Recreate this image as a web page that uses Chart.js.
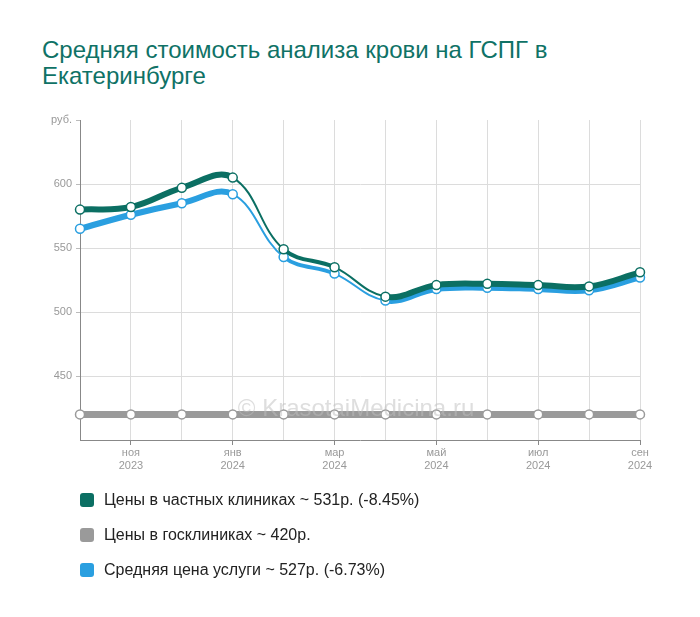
<!DOCTYPE html>
<html><head><meta charset="utf-8">
<script src="https://cdn.jsdelivr.net/npm/chart.js@4.4.1/dist/chart.umd.min.js"></script>
<style>
body{margin:0;background:#fff;font-family:Arial,"Liberation Sans",sans-serif;}
#wrap{position:relative;width:700px;height:617px;overflow:hidden;}
#title{position:absolute;left:42px;top:37px;font-size:24px;color:#0f7266;line-height:26px;width:640px;}
canvas{position:absolute;left:0;top:0;}
#legend{position:absolute;left:80px;top:482px;}
.li{display:flex;align-items:center;height:35px;font-size:16px;color:#222;}
.sw{width:14px;height:14px;border-radius:3px;margin-right:10px;}
</style></head>
<body>
<div id="wrap">
<div id="title">Средняя стоимость анализа крови на ГСПГ в<br>Екатеринбурге</div>
<canvas id="c" width="700" height="617"></canvas>
<div id="legend"></div>
</div>
<script>
const months = ['окт 2023','ноя 2023','дек 2023','янв 2024','фев 2024','мар 2024','апр 2024','май 2024','июн 2024','июл 2024','авг 2024','сен 2024'];
const tickLabels = ['', ['ноя','2023'], '', ['янв','2024'], '', ['мар','2024'], '', ['май','2024'], '', ['июл','2024'], '', ['сен','2024']];
const privatePrices = [580, 582, 597, 605, 549, 535, 512, 521, 522, 521, 520, 531];
const publicPrices  = [420, 420, 420, 420, 420, 420, 420, 420, 420, 420, 420, 420];
const averagePrices = [565, 576, 585, 592, 543, 530, 509, 518, 519, 518, 517, 527];
const seriesNames = ['Цены в частных клиниках ~ 531р. (-8.45%)', 'Цены в госклиниках ~ 420р.', 'Средняя цена услуги ~ 527р. (-6.73%)'];
const yTicks = {min: 400, max: 650, step: 50, unit: 'руб.'};

// styles
const colors = ['#0b6f63', '#9a9a9a', '#2a9fe0'];
const segWidths = [6, 6, 6, 2, 4, 2, 6, 6, 6, 6, 6];

const legend = document.getElementById('legend');
seriesNames.forEach((n, i) => {
  const d = document.createElement('div'); d.className = 'li';
  d.innerHTML = '<span class="sw" style="background:' + colors[i] + '"></span><span></span>';
  d.lastChild.textContent = n;
  legend.appendChild(d);
});

const watermark = {
  id: 'wm',
  afterDatasetsDraw(chart) {
    const c = chart.ctx;
    c.save();
    c.font = '24px Arial, "Liberation Sans", sans-serif';
    c.fillStyle = 'rgba(190,190,190,0.5)';
    c.textAlign = 'center';
    c.textBaseline = 'middle';
    c.fillText('© KrasotaiMedicina.ru', 356, 409);
    c.restore();
  }
};

function ds(label, data, color, variable) {
  return {
    label, data,
    borderColor: color,
    backgroundColor: color,
    borderWidth: variable ? 6 : 7,
    tension: 0.4,
    pointRadius: 4.5,
    pointBorderWidth: 1.5,
    pointBackgroundColor: '#fff',
    pointBorderColor: color,
    fill: false,
    segment: variable ? {borderWidth: ctx => segWidths[ctx.p0DataIndex]} : {}
  };
}

new Chart(document.getElementById('c'), {
  type: 'line',
  data: {
    labels: months,
    datasets: [
      ds(seriesNames[0], privatePrices, colors[0], true),
      ds(seriesNames[1], publicPrices, colors[1], false),
      ds(seriesNames[2], averagePrices, colors[2], true)
    ]
  },
  options: {
    responsive: false,
    animation: false,
    layout: {padding: {left: 0, right: 60, top: 120, bottom: 137}},
    plugins: {legend: {display: false}, tooltip: {enabled: false}, title: {display: false}},
    scales: {
      x: {
        type: 'category',
        offset: false,
        afterFit: s => { s.height = 40; },
        border: {color: '#888', width: 1},
        grid: {
          color: '#dcdcdc',
          tickColor: ctx => (ctx.index % 2 === 1 ? '#888' : 'rgba(0,0,0,0)'),
          tickLength: 5
        },
        ticks: {
          autoSkip: false, maxRotation: 0, padding: 2,
          color: '#999', font: {size: 11, family: 'Arial, "Liberation Sans", sans-serif', lineHeight: 1.15},
          callback: (v, i) => tickLabels[i]
        }
      },
      y: {
        min: yTicks.min, max: yTicks.max,
        afterFit: s => { s.width = 80; },
        border: {color: '#888', width: 1},
        grid: {
          color: ctx => (ctx.tick && (ctx.tick.value === yTicks.max || ctx.tick.value === yTicks.min) ? 'rgba(0,0,0,0)' : '#dcdcdc'),
          tickColor: ctx => (ctx.tick && ctx.tick.value === yTicks.min ? 'rgba(0,0,0,0)' : '#bbb'),
          tickLength: 4
        },
        ticks: {
          stepSize: yTicks.step, padding: 4,
          color: '#999', font: {size: 11, family: 'Arial, "Liberation Sans", sans-serif'},
          callback: v => (v === yTicks.max ? yTicks.unit : v === yTicks.min ? '' : v)
        }
      }
    }
  },
  plugins: [watermark]
});
</script>
</body></html>
